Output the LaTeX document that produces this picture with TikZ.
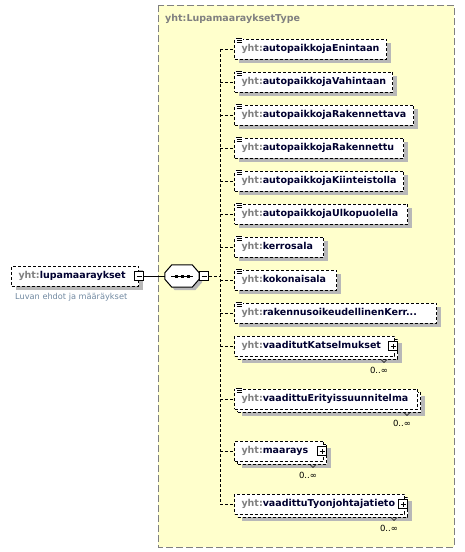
\documentclass[tikz,border=0pt]{standalone}
\usepackage{fontspec}
\setmainfont{DejaVu Sans}
\usetikzlibrary{positioning, shadows}

\definecolor{typefill}{RGB}{255,255,204}
\definecolor{typeline}{RGB}{128,128,128}
\definecolor{shade}{RGB}{184,184,184}
\definecolor{prefix}{RGB}{128,128,128}
\definecolor{elname}{RGB}{0,0,48}
\definecolor{docblue}{RGB}{112,136,160}

\newcommand{\yht}[1]{\mbox{\textcolor{prefix}{yht:}\textcolor{elname}{#1}}}

\begin{document}
\begin{tikzpicture}[x=1pt, y=-1pt,
    box/.style={draw=black, line width=1pt, dash pattern=on 3pt off 2pt, fill=white,
      anchor=west, minimum height=20pt, inner xsep=7pt, inner ysep=0pt,
      font=\fontsize{9.5}{11}\selectfont\bfseries},
    single/.style={box, drop shadow={shadow xshift=4pt, shadow yshift=-4pt, fill=shade, draw=none, opacity=1}},
    multi/.style={box,
      drop shadow={shadow xshift=7pt, shadow yshift=-7pt, fill=shade, draw=none, opacity=1},
      copy shadow={shadow xshift=3pt, shadow yshift=-3pt, fill=white, draw=black, dash pattern=on 3pt off 2pt, opacity=1}},
    link/.style={line width=1pt, dash pattern=on 3pt off 2pt},
    minusbox/.style={draw, line width=1pt, fill=white, minimum size=9pt, inner sep=0pt,
      path picture={\draw[line width=1pt] ([xshift=2pt]path picture bounding box.west) -- ([xshift=-2pt]path picture bounding box.east);}},
    plusbox/.style={draw, line width=1pt, fill=white, minimum size=9pt, inner sep=0pt,
      path picture={\draw[line width=1pt] ([xshift=2pt]path picture bounding box.west) -- ([xshift=-2pt]path picture bounding box.east)
        ([yshift=2pt]path picture bounding box.south) -- ([yshift=-2pt]path picture bounding box.north);}},
    seq/.style={minimum width=34pt, minimum height=22pt, inner sep=0pt},
    icon/.style={line width=0.7pt},
    typelabel/.style={anchor=west, inner sep=0pt, text=typeline, font=\fontsize{9.5}{11}\selectfont\bfseries},
    doclabel/.style={anchor=west, inner sep=0pt, text=docblue, font=\fontsize{8.2}{10}\selectfont},
    occurs/.style={inner sep=0pt, font=\fontsize{8.5}{10}\selectfont}]
  \useasboundingbox (0,0) rectangle (464,552);

  % complex type box
  \draw[draw=typeline, fill=typefill, line width=1pt, dash pattern=on 7pt off 3pt] (158,5) rectangle (454,547);
  \node[typelabel] (typename) at (165,19) {yht:LupamaarayksetType};

  % root element
  \node[single, text width=113pt] (lupa) at (11,276) {\yht{lupamaaraykset}};
  \node[minusbox] (lupaminus) at (lupa.east) {};
  \node[doclabel] (lupadoc) at (15,297) {Luvan ehdot ja määräykset};

  % sequence compositor
  \node[seq] (seq) at (182,276) {};
  \draw[line width=1pt, fill=white, drop shadow={shadow xshift=3pt, shadow yshift=-3pt, fill=shade, draw=none, opacity=1}]
    ([xshift=7pt]seq.north west) -- ([xshift=-7pt]seq.north east) -- ([yshift=-8pt]seq.north east)
    -- ([yshift=8pt]seq.south east) -- ([xshift=-7pt]seq.south east) -- ([xshift=7pt]seq.south west)
    -- ([yshift=8pt]seq.south west) -- ([yshift=-8pt]seq.north west) -- cycle;
  \draw[line width=1pt] ([xshift=6pt]seq.west) -- ([xshift=-6pt]seq.east);
  \foreach \dx in {-6,0,6}
    \fill ([xshift=\dx pt]seq.center) ++(-1.5,-1.5) rectangle ++(3,3);
  \node[minusbox, anchor=west] (seqminus) at (seq.east) {};
  \draw[line width=1pt] (lupaminus) -- (seq);

  % spine of the sequence
  \coordinate (spinetop) at (220,49);
  \coordinate (spinebot) at (220,504);
  \draw[link] (spinetop) -- (spinebot);
  \draw[link] (seqminus) -- (seqminus -| spinetop);

  % child elements
  \node[single, text width=138pt] (enintaan) at (234,49) {\yht{autopaikkojaEnintaan}};
  \node[single, text width=144pt] (vahintaan) at (234,82) {\yht{autopaikkojaVahintaan}};
  \node[single, text width=165pt] (rakennettava) at (234,115) {\yht{autopaikkojaRakennettava}};
  \node[single, text width=155pt] (rakennettu) at (234,148) {\yht{autopaikkojaRakennettu}};
  \node[single, text width=155pt] (kiinteistolla) at (234,181) {\yht{autopaikkojaKiinteistolla}};
  \node[single, text width=159pt] (ulkopuolella) at (234,214) {\yht{autopaikkojaUlkopuolella}};
  \node[single, text width=75pt] (kerrosala) at (234,247) {\yht{kerrosala}};
  \node[single, text width=88pt] (kokonaisala) at (234,280) {\yht{kokonaisala}};
  \node[single, text width=188pt] (rakennus) at (234,313) {\yht{rakennusoikeudellinenKerr...}};
  \node[multi, text width=146pt] (katselmukset) at (234,346) {\yht{vaaditutKatselmukset}};
  \node[multi, text width=169pt] (erityis) at (234,399) {\yht{vaadittuErityissuunnitelma}};
  \node[multi, text width=75pt] (maarays) at (234,451) {\yht{maarays}};
  \node[multi, text width=156pt] (tyonjohtaja) at (234,504) {\yht{vaadittuTyonjohtajatieto}};

  \foreach \n in {enintaan, vahintaan, rakennettava, rakennettu, kiinteistolla, ulkopuolella,
      kerrosala, kokonaisala, rakennus, katselmukset, erityis, maarays, tyonjohtaja}
    \draw[link] (spinetop |- \n.west) -- (\n.west);

  % simple content icons
  \foreach \n in {enintaan, vahintaan, rakennettava, rakennettu, kiinteistolla, ulkopuolella,
      kerrosala, kokonaisala, rakennus, erityis} {
    \fill[white] ([xshift=1pt,yshift=1pt]\n.north west) rectangle ++(8,6);
    \draw[icon] ([xshift=1.5pt]\n.north west) -- ++(6,0)
      ([xshift=2.5pt,yshift=-2pt]\n.north west) -- ++(5,0)
      ([xshift=2.5pt,yshift=-4pt]\n.north west) -- ++(5,0);
  }

  % expandable children
  \node[plusbox] (katselmuksetplus) at ([xshift=-2pt]katselmukset.east) {};
  \node[plusbox] (maaraysplus) at ([xshift=-2pt]maarays.east) {};
  \node[plusbox] (tyonjohtajaplus) at ([xshift=-2pt]tyonjohtaja.east) {};

  % occurrences
  \foreach \n in {katselmukset, erityis, maarays, tyonjohtaja} {
    \draw[line width=0.6pt] ([xshift=-14pt,yshift=-3pt]\n.south east) -- ++(3,3) -- ++(3,-3);
    \node[occurs] (\n occ) at ([xshift=-16pt,yshift=-14pt]\n.south east) {0..∞};
  }
\end{tikzpicture}
\end{document}
